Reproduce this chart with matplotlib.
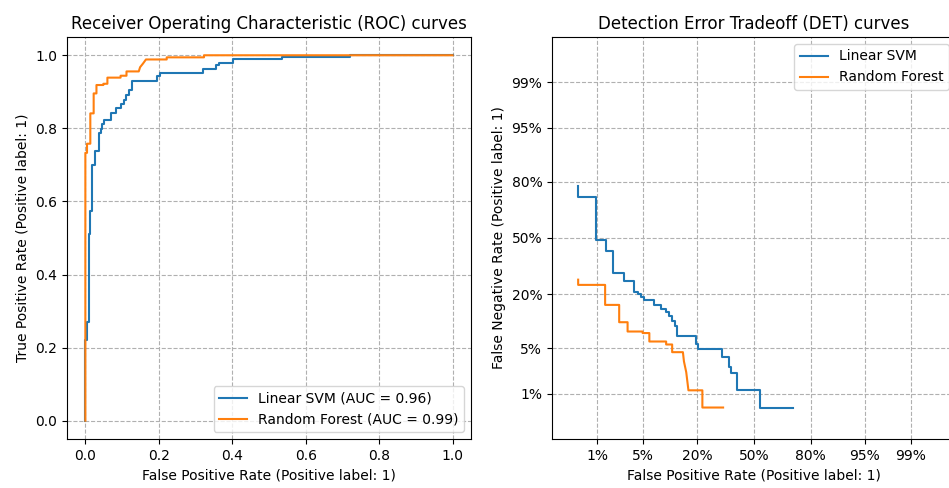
import numpy as np
import matplotlib
matplotlib.use("Agg")
import matplotlib.pyplot as plt
from statistics import NormalDist

# operating points (fpr, fnr), visible ones only
svm_fpr = [0.0045, 0.0045, 0.0093, 0.0093, 0.0138, 0.0138, 0.0182, 0.0182, 0.0269, 0.0269,
           0.0376, 0.0376, 0.0419, 0.0419, 0.0466, 0.0466, 0.0516, 0.0516, 0.0695, 0.0695,
           0.0838, 0.0838, 0.0959, 0.0959, 0.1046, 0.1046, 0.112, 0.112, 0.1188, 0.1188,
           0.1259, 0.1259, 0.1957, 0.1957, 0.2027, 0.2027, 0.3198, 0.3198, 0.356, 0.356,
           0.3636, 0.3636, 0.4017, 0.4017, 0.536, 0.536, 0.721]
svm_fnr = [0.779, 0.731, 0.731, 0.488, 0.488, 0.425, 0.425, 0.299, 0.299, 0.262,
           0.262, 0.212, 0.212, 0.202, 0.202, 0.188, 0.188, 0.176, 0.176, 0.157,
           0.157, 0.145, 0.145, 0.134, 0.134, 0.1235, 0.1235, 0.109, 0.109, 0.0956,
           0.0956, 0.071, 0.071, 0.0571, 0.0571, 0.049, 0.049, 0.0377, 0.0377, 0.027,
           0.027, 0.0221, 0.0221, 0.0115, 0.0115, 0.0056, 0.0056]

rf_fpr = [0.0045, 0.0045, 0.0135, 0.0135, 0.0226, 0.0226, 0.0302, 0.0302, 0.049, 0.049,
          0.06, 0.06, 0.0959, 0.0959, 0.112, 0.112, 0.1454, 0.149, 0.157, 0.165,
          0.2215, 0.2215, 0.323]
rf_fnr = [0.267, 0.242, 0.242, 0.159, 0.159, 0.1044, 0.1044, 0.0814, 0.0814, 0.078,
          0.078, 0.0612, 0.0612, 0.056, 0.056, 0.0442, 0.0442, 0.0327, 0.0226, 0.0115,
          0.0115, 0.0057, 0.0057]

names = ["Linear SVM", "Random Forest"]
auc = [0.96, 0.99]
colors = ["tab:blue", "tab:orange"]

det_ticks = [0.001, 0.01, 0.05, 0.20, 0.5, 0.80, 0.95, 0.99, 0.999]
det_labels = ["0.1%", "1%", "5%", "20%", "50%", "80%", "95%", "99%", "99.9%"]

nd = NormalDist()
_ppf = np.vectorize(nd.inv_cdf, otypes=[float])
_cdf = np.vectorize(nd.cdf, otypes=[float])


def probit(p):
    p = np.clip(np.asarray(p, dtype=float), 1e-12, 1 - 1e-12)
    return _ppf(p)


def inv_probit(z):
    return _cdf(np.asarray(z, dtype=float))


fig = plt.figure(figsize=(9.49, 4.88), dpi=100)
ax_roc = fig.add_axes([0.0706, 0.1004, 0.4257, 0.8238])
ax_det = fig.add_axes([0.5817, 0.1004, 0.4257, 0.8238])

data = [(svm_fpr, svm_fnr), (rf_fpr, rf_fnr)]

for (fpr, fnr), name, a, c in zip(data, names, auc, colors):
    fpr = np.array(fpr)
    tpr = 1 - np.array(fnr)
    # roc curve starts at (0, 0) and ends at (1, 1)
    roc_x = np.r_[0, 0, fpr, fpr[-1], 1]
    roc_y = np.r_[0, tpr[0], tpr, 1, 1]
    ax_roc.plot(roc_x, roc_y, color=c, label=f"{name} (AUC = {a:.2f})")
    ax_det.plot(fpr, fnr, color=c, label=name)

ax_roc.set_title("Receiver Operating Characteristic (ROC) curves")
ax_roc.set_xlabel("False Positive Rate (Positive label: 1)")
ax_roc.set_ylabel("True Positive Rate (Positive label: 1)")
ax_roc.legend(loc="lower right")
ax_roc.grid(linestyle="--")

ax_det.set_xscale("function", functions=(probit, inv_probit))
ax_det.set_yscale("function", functions=(probit, inv_probit))
lo, hi = inv_probit(-3.0), inv_probit(3.0)
ax_det.set_xticks(det_ticks, det_labels)
ax_det.set_yticks(det_ticks, det_labels)
ax_det.set_xlim(float(lo), float(hi))
ax_det.set_ylim(float(lo), float(hi))
ax_det.minorticks_off()
ax_det.set_title("Detection Error Tradeoff (DET) curves")
ax_det.set_xlabel("False Positive Rate (Positive label: 1)")
ax_det.set_ylabel("False Negative Rate (Positive label: 1)")
ax_det.legend(loc="upper right")
ax_det.grid(linestyle="--")

fig.savefig("out.png", dpi=100)
